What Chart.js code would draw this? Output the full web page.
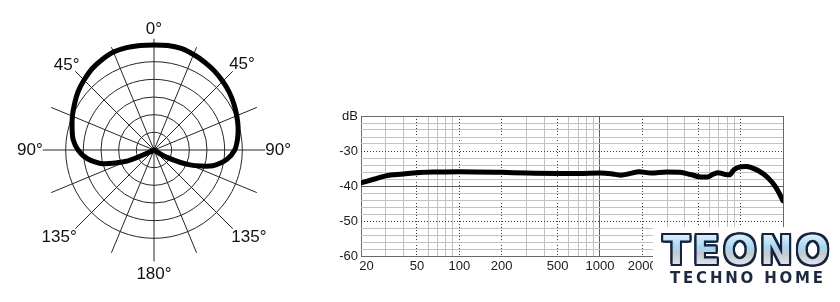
<!DOCTYPE html>
<html>
<head>
<meta charset="utf-8">
<script src="https://cdn.jsdelivr.net/npm/chart.js@4.4.1/dist/chart.umd.min.js"></script>
<style>
  html, body { margin: 0; padding: 0; background: #fff; }
  body { width: 840px; height: 302px; position: relative; overflow: hidden; }
  #polarBox { position: absolute; left: 17px; top: 15px; width: 274px; height: 274px; }
  #respBox { position: absolute; left: 320px; top: 100px; width: 470px; height: 185px; }
  #logo { position: absolute; left: 653px; top: 227px; width: 187px; height: 75px; background: #fff; }
  #logoMark {
    position: absolute; left: 10px; top: 4px; white-space: nowrap;
    font: bold 39px/1 'DejaVu Sans', sans-serif; letter-spacing: 3.5px;
    background: linear-gradient(180deg, #eef7fc 0%, #a6d6f2 42%, #c3c9cf 58%, #f0f2f4 100%);
    -webkit-background-clip: text; background-clip: text; color: transparent;
    filter: drop-shadow(2px 0 0 #13223d) drop-shadow(-2px 0 0 #13223d) drop-shadow(0 2px 0 #13223d) drop-shadow(0 -2px 0 #13223d);
  }
  #logoSub {
    position: absolute; left: 17px; top: 44px; white-space: nowrap;
    font: bold 15px/1 'DejaVu Sans', sans-serif; letter-spacing: 2.8px; color: #1c2940;
  }
</style>
</head>
<body>
<div id="polarBox"><canvas id="polar"></canvas></div>
<div id="respBox"><canvas id="resp"></canvas></div>
<div id="logo">
  <div id="logoMark">TEONO</div>
  <div id="logoSub">TECHNO HOME</div>
</div>
<script>
// polar pattern, sampled every 7.5 degrees clockwise from the front
const polarAngles = [0, 7.5, 15, 22.5, 30, 37.5, 45, 52.5, 60, 67.5, 75, 82.5,
  90, 97.5, 105, 112.5, 120, 127.5, 135, 142.5, 150, 157.5, 165, 172.5,
  180, 187.5, 195, 202.5, 210, 217.5, 225, 232.5, 240, 247.5, 255, 262.5,
  270, 277.5, 285, 292.5, 300, 307.5, 315, 322.5, 330, 337.5, 345, 352.5]
// radius in rings (outer ring = 6)
const polarLevel = [5.95, 5.97, 5.95, 5.85, 5.74, 5.63, 5.5, 5.37, 5.22, 5.07, 4.93, 4.77,
  4.57, 4.15, 3.45, 2.2, 0.8, 0, 0, 0, 0, 0, 0, 0,
  0, 0, 0, 0, 0, 0, 0, 0, 0.1, 1.6, 3.0, 3.8,
  4.3, 4.62, 4.8, 5.0, 5.2, 5.42, 5.6, 5.78, 5.9, 6.0, 6.0, 5.97]
const labelAngles = [0, 45, 90, 135, 180, 225, 270, 315]
const labelText = ['0°', '45°', '90°', '135°', '180°', '135°', '90°', '45°']
const labelPad = [-0.5, -5, 0, -2, 3, -2, 0, -6]

// frequency response
const freqHz = [20, 25, 30, 40, 50, 70, 100, 200, 300, 500, 700, 1000, 1200, 1400, 1650, 1900,
  2300, 3000, 3700, 4400, 5200, 5800, 6400, 6900, 7600, 8300, 9000, 10000, 11000, 12000,
  13200, 15500, 17800, 20000]
const levelDb = [-39.1, -38.0, -37.1, -36.6, -36.2, -36.0, -35.9, -36.1, -36.3, -36.4, -36.4, -36.3,
  -36.5, -36.9, -36.4, -35.9, -36.3, -36.0, -36.1, -36.7, -37.4, -37.4, -36.6, -36.2, -36.6,
  -36.8, -35.3, -34.5, -34.4, -34.8, -35.5, -37.5, -40.4, -44.2]
const freqGrid = [20, 30, 40, 50, 60, 70, 80, 90, 100, 200, 300, 400, 500, 600, 700, 800, 900,
  1000, 2000, 3000, 4000, 5000, 6000, 7000, 8000, 9000, 10000, 20000]
const freqDotted = [50, 100, 200, 500, 2000, 5000, 10000]
const freqLabels = [20, 50, 100, 200, 500, 1000, 2000]
const dbDotted = [-30, -50]
const dbLabels = [-30, -40, -50, -60]

Chart.defaults.font.family = "'Liberation Sans', Arial, sans-serif"
Chart.defaults.color = '#1a1a1a'

const polarLabels = polarAngles.map(a => {
  const k = labelAngles.indexOf(a)
  return k >= 0 ? labelText[k] : ''
})

new Chart(document.getElementById('polar'), {
  type: 'radar',
  data: {
    labels: polarLabels,
    datasets: [{
      data: polarLevel,
      borderColor: '#000',
      borderWidth: 5,
      pointRadius: 0,
      fill: false,
      tension: 0.25
    }]
  },
  options: {
    responsive: true,
    maintainAspectRatio: false,
    animation: false,
    layout: { padding: 0 },
    plugins: { legend: { display: false }, tooltip: { enabled: false } },
    scales: {
      r: {
        min: 0,
        max: 6.3,
        ticks: { display: false, stepSize: 1 },
        grid: {
          circular: true,
          lineWidth: 1,
          color: c => Number.isInteger(c.tick.value) ? '#262626' : 'rgba(0,0,0,0)'
        },
        angleLines: {
          lineWidth: 1,
          color: c => c.index % 3 === 0 ? '#262626' : 'rgba(0,0,0,0)'
        },
        pointLabels: {
          font: { size: 17 },
          color: '#111',
          padding: c => {
            const k = labelAngles.indexOf(polarAngles[c.index])
            return k >= 0 ? labelPad[k] : -60
          }
        }
      }
    }
  }
})

const hide0 = s => { s.height = 0 }
const hideW = s => { s.width = 0 }

new Chart(document.getElementById('resp'), {
  type: 'line',
  data: {
    datasets: [{
      data: freqHz.map((f, i) => ({ x: f, y: levelDb[i] })),
      borderColor: '#000',
      borderWidth: 5,
      pointRadius: 0,
      fill: false,
      cubicInterpolationMode: 'monotone',
      borderCapStyle: 'round',
      borderJoinStyle: 'round'
    }]
  },
  options: {
    responsive: true,
    maintainAspectRatio: false,
    animation: false,
    layout: { padding: { top: 16, right: 7, left: 0, bottom: 0 } },
    plugins: { legend: { display: false }, tooltip: { enabled: false } },
    scales: {
      x: {
        type: 'logarithmic',
        position: 'bottom',
        min: 20,
        max: 20000,
        afterBuildTicks: s => { s.ticks = freqGrid.map(v => ({ value: v })) },
        afterFit: s => { s.height = 29 },
        ticks: {
          autoSkip: false,
          maxRotation: 0,
          minRotation: 0,
          padding: 3,
          font: { size: 13 },
          color: '#1a1a1a',
          callback: v => v === 20 ? '   20' : (freqLabels.includes(v) ? String(v) : '')
        },
        grid: {
          drawTicks: false,
          lineWidth: 1,
          color: c => {
            const v = c.tick.value
            if (v === 1000) return '#5a5a5a'
            if (v === 20 || v === 20000) return '#6a6a6a'
            if (freqDotted.includes(v)) return 'rgba(0,0,0,0)'
            return '#c2c2c2'
          }
        },
        border: { display: false }
      },
      x2: {
        type: 'logarithmic',
        axis: 'x',
        position: 'top',
        min: 20,
        max: 20000,
        afterBuildTicks: s => { s.ticks = freqDotted.map(v => ({ value: v })) },
        afterFit: hide0,
        ticks: { display: false },
        grid: { drawTicks: false, color: '#3a3a3a', lineWidth: 1 },
        border: { display: false, dash: [1, 2] }
      },
      y: {
        position: 'left',
        min: -60,
        max: -20,
        afterFit: s => { s.width = 41 },
        ticks: {
          stepSize: 2,
          autoSkip: false,
          padding: 3,
          font: { size: 13 },
          color: '#1a1a1a',
          callback: v => v === -20 ? 'dB' : (dbLabels.includes(v) ? String(v) : '')
        },
        grid: {
          drawTicks: false,
          lineWidth: 1,
          color: c => {
            const v = c.tick.value
            if (v === -40) return '#5a5a5a'
            if (v === -20 || v === -60) return '#6a6a6a'
            if (dbDotted.includes(v)) return 'rgba(0,0,0,0)'
            return '#c2c2c2'
          }
        },
        border: { display: false }
      },
      y2: {
        axis: 'y',
        position: 'right',
        min: -60,
        max: -20,
        afterBuildTicks: s => { s.ticks = dbDotted.map(v => ({ value: v })) },
        afterFit: hideW,
        ticks: { display: false },
        grid: { drawTicks: false, color: '#3a3a3a', lineWidth: 1 },
        border: { display: false, dash: [1, 2] }
      }
    }
  }
})
</script>
</body>
</html>
